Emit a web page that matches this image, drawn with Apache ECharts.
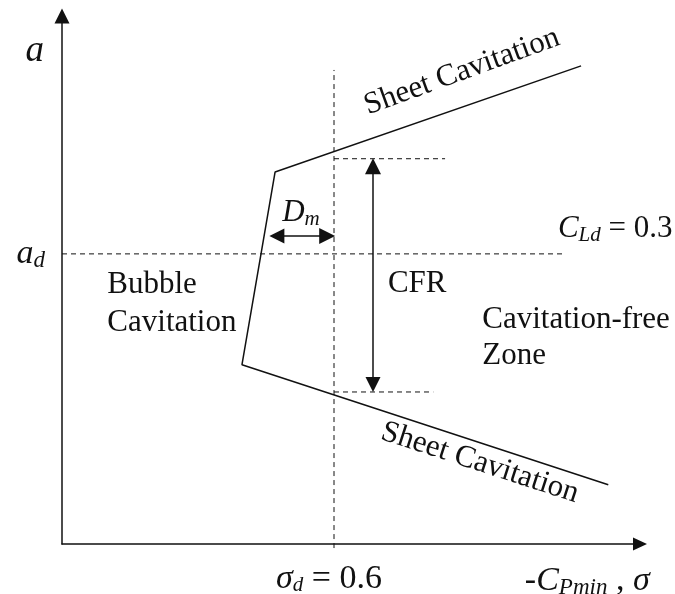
<!DOCTYPE html>
<html><head><meta charset="utf-8">
<script src="https://cdn.jsdelivr.net/npm/echarts@6/dist/echarts.min.js"></script>
<style>html,body{margin:0;padding:0;background:#fff}#c{width:675px;height:594px}</style>
</head><body><div id="c"></div>
<script>
// ---- data (schematic units) ----
// cavitation bucket boundary: upper sheet limit -> corner -> bubble limit -> lower sheet limit
const boundaryX = [1.145, 0.470, 0.397, 1.205];
const boundaryY = [8.24, 6.41, 3.09, 1.02];
// design point
const sigmaD = 0.6;      // σ_d
const aD = 5;            // a_d (C_Ld = 0.3)
// reference dashed lines
const designLineX = [0, 1.104];
const sigmaLineY = [-0.07, 8.17];
const cfrTopLineX = [0.6, 0.845];
const cfrBottomLineX = [0.6, 0.819];
const cfrRange = [2.62, 6.64];        // CFR bounds in a
const cfrArrowX = 0.686;
const cfrArrowY = [2.75, 6.51];       // arrow-head centres
const dmArrowX = [0.474, 0.585];      // D_m arrow-head centres
const dmArrowY = 5.31;
// axis ranges
const xRange = [0, 1.275];
const yRange = [0, 9.1];
// annotation texts and anchors
const annoText = ['a', 'Bubble', 'Cavitation', 'D_m', 'C_Ld', 'CFR', 'Cavitation-free', 'Zone', 'Sheet Cavitation', 'Sheet Cavitation', 'xname'];
const annoX = [-0.060, 0.100, 0.100, 0.527, 1.094, 0.719, 0.927, 0.927, 0.882, 0.922, 1.021];
const annoY = [8.50, 4.47, 3.81, 5.70, 5.43, 4.48, 3.86, 3.24, 8.14, 1.40, -0.64];
const annoRot = [0, 0, 0, 0, 0, 0, 0, 0, 20, -18, 0];
const annoAlign = ['center', 'left', 'left', 'center', 'left', 'left', 'left', 'left', 'center', 'center', 'left'];

const FONT = "'Liberation Serif','Times New Roman',serif";
const INK = '#111';
const rich = {
  n: {fontFamily: FONT, fontSize: 31, color: INK},
  i: {fontFamily: FONT, fontSize: 31, fontStyle: 'italic', color: INK},
  big: {fontFamily: FONT, fontSize: 37, fontStyle: 'italic', color: INK},
  sub: {fontFamily: FONT, fontSize: 21, fontStyle: 'italic', color: INK, padding: [13, 0, 0, 0]},
  an: {fontFamily: FONT, fontSize: 34, color: INK},
  ai: {fontFamily: FONT, fontSize: 34, fontStyle: 'italic', color: INK},
  asub: {fontFamily: FONT, fontSize: 23, fontStyle: 'italic', color: INK, padding: [14, 0, 0, 0]}
};
function fmt(t) {
  if (t === 'a') return '{big|a}';
  if (t === 'D_m') return '{i|D}{sub|m}';
  if (t === 'C_Ld') return '{i|C}{sub|Ld}{n| = 0.3}';
  if (t === 'xname') return '{an|-}{ai|C}{asub|Pmin}{an| , }{ai|σ}';
  return '{n|' + t + '}';
}

const chart = echarts.init(document.getElementById('c'), null, {renderer: 'canvas'});
const dashed = {color: INK, width: 1, type: [5, 4], opacity: 1};
const solid = {color: INK, width: 1.5, opacity: 1};
function seg(xs, ys, style) {
  return {type: 'line', data: xs.map((x, k) => [x, ys[k]]), showSymbol: false, symbol: 'none',
    lineStyle: style, silent: true, clip: false, animation: false};
}
chart.setOption({
  animation: false,
  backgroundColor: '#fff',
  grid: {left: 62, top: 16, width: 578, height: 528, containLabel: false, outerBoundsMode: 'none'},
  xAxis: {
    type: 'value', min: xRange[0], max: xRange[1], interval: 0.6,
    axisLine: {show: true, onZero: false, symbol: ['none', 'triangle'], symbolSize: [13, 14], lineStyle: {color: INK, width: 1.5}},
    axisTick: {show: false}, splitLine: {show: false},
    axisLabel: {margin: 18, padding: [0, 10, 0, 0], rich: rich,
      formatter: v => Math.abs(v - sigmaD) < 1e-6 ? '{ai|σ}{sub|d}{an| = 0.6}' : ''}
  },
  yAxis: {
    type: 'value', min: yRange[0], max: yRange[1], interval: aD,
    axisLine: {show: true, onZero: false, symbol: ['none', 'triangle'], symbolSize: [15, 15], lineStyle: {color: INK, width: 1.5}},
    axisTick: {show: false}, splitLine: {show: false},
    axisLabel: {margin: 17, rich: rich, formatter: v => Math.abs(v - aD) < 1e-6 ? '{ai|a}{asub|d}' : ''}
  },
  series: [
    seg(boundaryX, boundaryY, solid),
    seg(designLineX, [aD, aD], dashed),
    seg([sigmaD, sigmaD], sigmaLineY, dashed),
    seg(cfrTopLineX, [cfrRange[1], cfrRange[1]], dashed),
    seg(cfrBottomLineX, [cfrRange[0], cfrRange[0]], dashed),
    {
      type: 'lines', coordinateSystem: 'cartesian2d', silent: true, animation: false,
      symbol: ['triangle', 'triangle'], symbolSize: [15, 16],
      lineStyle: {color: INK, width: 1.5, opacity: 1},
      itemStyle: {color: INK},
      data: [
        {coords: [[cfrArrowX, cfrArrowY[0]], [cfrArrowX, cfrArrowY[1]]]},
        {coords: [[dmArrowX[0], dmArrowY], [dmArrowX[1], dmArrowY]]}
      ]
    },
    {
      type: 'scatter', symbolSize: 0, silent: true, clip: false, animation: false,
      itemStyle: {opacity: 1, color: INK},
      data: annoText.map((t, k) => ({
        value: [annoX[k], annoY[k]],
        label: {show: true, position: 'inside', opacity: 1, color: INK, formatter: fmt(t), rotate: annoRot[k], align: annoAlign[k], verticalAlign: 'middle', rich: rich}
      }))
    }
  ]
});
</script></body></html>
